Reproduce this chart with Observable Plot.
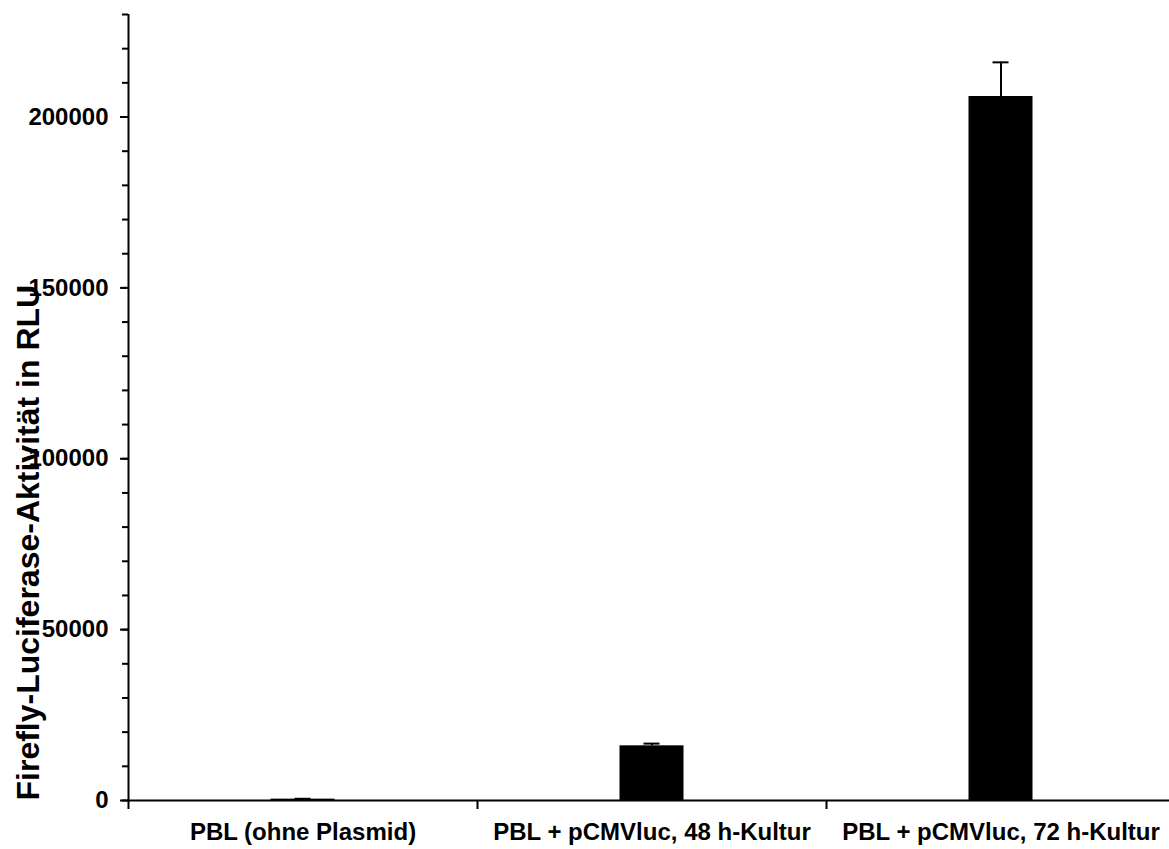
<!DOCTYPE html>
<html><head><meta charset="utf-8">
<script src="https://cdn.jsdelivr.net/npm/d3@7"></script>
<script src="https://cdn.jsdelivr.net/npm/@observablehq/plot@0.6"></script>
<style>body{margin:0;background:#fff}</style>
</head><body><div id="chart"></div>
<script>
const categories = ["PBL (ohne Plasmid)", "PBL + pCMVluc, 48 h-Kultur", "PBL + pCMVluc, 72 h-Kultur"];
const values = [400, 16000, 206000];
const errors = [100, 650, 10000];
const yTicks = [0, 50000, 100000, 150000, 200000];
const yMinorTicks = d3.range(0, 230001, 10000);
const xBoundaryTicks = [0, 1, 2, 3];
const xLabelTicks = [0.5, 1.5, 2.5];
const yLabel = "Firefly-Luciferase-Aktivität in RLU";

const rows = categories.map((c, i) => ({i, c, v: values[i], e: errors[i]}));
const font = "'Liberation Sans', Arial, Helvetica, sans-serif";

const chart = Plot.plot({
  width: 1169, height: 849,
  marginLeft: 128, marginRight: 0, marginTop: 14, marginBottom: 49,
  style: {fontFamily: font, fontWeight: "bold", background: "white", color: "black", overflow: "visible"},
  x: {domain: [0, 3], range: [128, 1175], axis: null, label: null},
  y: {domain: [0, 230000], axis: null, label: null},
  marks: [
    Plot.rectY(rows, {x1: "i", x2: d => d.i + 1, y: "v", insetLeft: 142.5, insetRight: 142.5, fill: "black"}),
    Plot.ruleX(rows, {x: d => d.i + 0.5, y1: "v", y2: d => d.v + d.e, stroke: "black", strokeWidth: 2}),
    Plot.ruleY(rows, {x1: d => d.i + 0.5, x2: d => d.i + 0.5, y: d => d.v + d.e, insetLeft: -8, insetRight: -8, stroke: "black", strokeWidth: 2}),
    Plot.axisY({ticks: yMinorTicks, tickSize: 6, tickFormat: () => "", strokeWidth: 2, label: null}),
    Plot.axisY({ticks: yTicks, tickSize: 8, tickPadding: 12, fontSize: 24, fontWeight: "bold", tickFormat: d => String(d), strokeWidth: 2, label: null}),
    Plot.axisX({ticks: xBoundaryTicks, tickSize: 9, tickFormat: () => "", strokeWidth: 2, label: null}),
    Plot.axisX({ticks: xLabelTicks, tickSize: 0, tickPadding: 22, fontSize: 24, fontWeight: "bold", tickFormat: d => categories[Math.floor(d)], label: null}),
    Plot.ruleX([0], {stroke: "black", strokeWidth: 2}),
    Plot.ruleY([0], {stroke: "black", strokeWidth: 2}),
    Plot.text([yLabel], {frameAnchor: "bottom-left", dx: -90, rotate: -90, textAnchor: "start", lineAnchor: "bottom", fontSize: 32, fontWeight: "bold", fill: "black", text: d => d})
  ]
});
document.getElementById("chart").appendChild(chart);
</script>
</body></html>
